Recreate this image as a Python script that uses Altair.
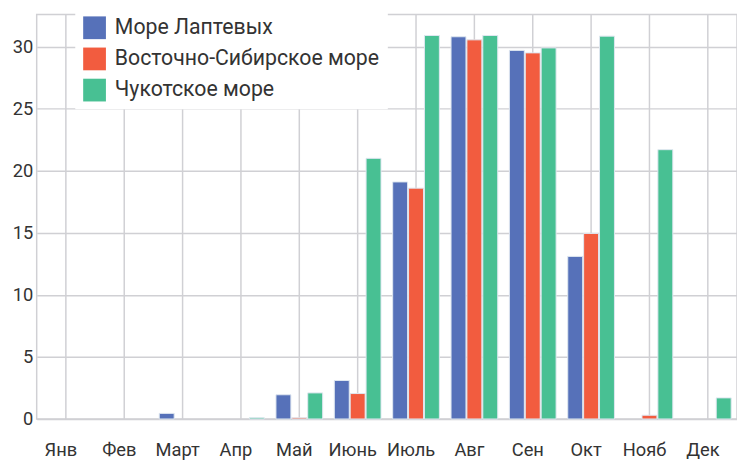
import altair as alt
import pandas as pd

months = ["Янв", "Фев", "Март", "Апр", "Май", "Июнь", "Июль", "Авг", "Сен", "Окт", "Нояб", "Дек"]
series = ["Море Лаптевых", "Восточно-Сибирское море", "Чукотское море"]
laptev = [0, 0, 0.45, 0, 1.95, 3.1, 19.1, 30.8, 29.7, 13.1, 0, 0]
east_siberian = [0, 0, 0, 0, 0.1, 2.05, 18.6, 30.55, 29.5, 14.95, 0.3, 0]
chukchi = [0, 0, 0, 0.1, 2.1, 21.0, 30.9, 30.9, 29.9, 30.85, 21.7, 1.7]
colors = ["#5671B9", "#F25C3F", "#48C093"]

rows = []
for name, vals in zip(series, [laptev, east_siberian, chukchi]):
    for m, v in zip(months, vals):
        rows.append({"month": m, "series": name, "value": v})
df = pd.DataFrame(rows)

FONT = "Roboto"

chart = alt.Chart(df).transform_filter(
    alt.datum.value > 0
).mark_bar(stroke="#dfe7f0", strokeWidth=1).encode(
    x=alt.X("month:N", sort=months, title=None,
            scale=alt.Scale(domain=months, paddingInner=0.2, paddingOuter=0.1),
            axis=alt.Axis(grid=True, bandPosition=0.5, domain=False, ticks=False,
                          labelAngle=0, labelFontSize=18.5, labelPadding=22,
                          labelOffset=-5, labelColor="#333333", labelFont=FONT,
                          gridColor="#d0d0d4", gridWidth=1.5)),
    xOffset=alt.XOffset("series:N", sort=series,
                        scale=alt.Scale(domain=series, paddingInner=0.06, paddingOuter=0)),
    y=alt.Y("value:Q", title=None,
            scale=alt.Scale(domain=[0, 32.6], nice=False),
            axis=alt.Axis(values=[0, 5, 10, 15, 20, 25, 30], domain=False, ticks=False,
                          labelFontSize=18.5, labelPadding=4, labelColor="#333333",
                          labelFont=FONT, gridColor="#d0d0d4", gridWidth=1.5)),
    color=alt.Color("series:N", sort=series,
                    scale=alt.Scale(domain=series, range=colors),
                    legend=alt.Legend(title=None, orient="none", legendX=39, legendY=-6,
                                      symbolType="square", symbolSize=529,
                                      symbolStrokeWidth=0, labelFontSize=21.5,
                                      labelFont=FONT, labelColor="#333333",
                                      labelOffset=9, rowPadding=8.5,
                                      fillColor="white", padding=8,
                                      labelLimit=400)),
).properties(
    width=708, height=409,
    autosize=alt.AutoSizeParams(type="none"),
    padding={"left": 29, "top": 4, "right": 0, "bottom": 40},
).configure_view(stroke="#d0d0d4", strokeWidth=1.5)

chart.save("out.html", embed_options={"renderer": "svg", "actions": False})
